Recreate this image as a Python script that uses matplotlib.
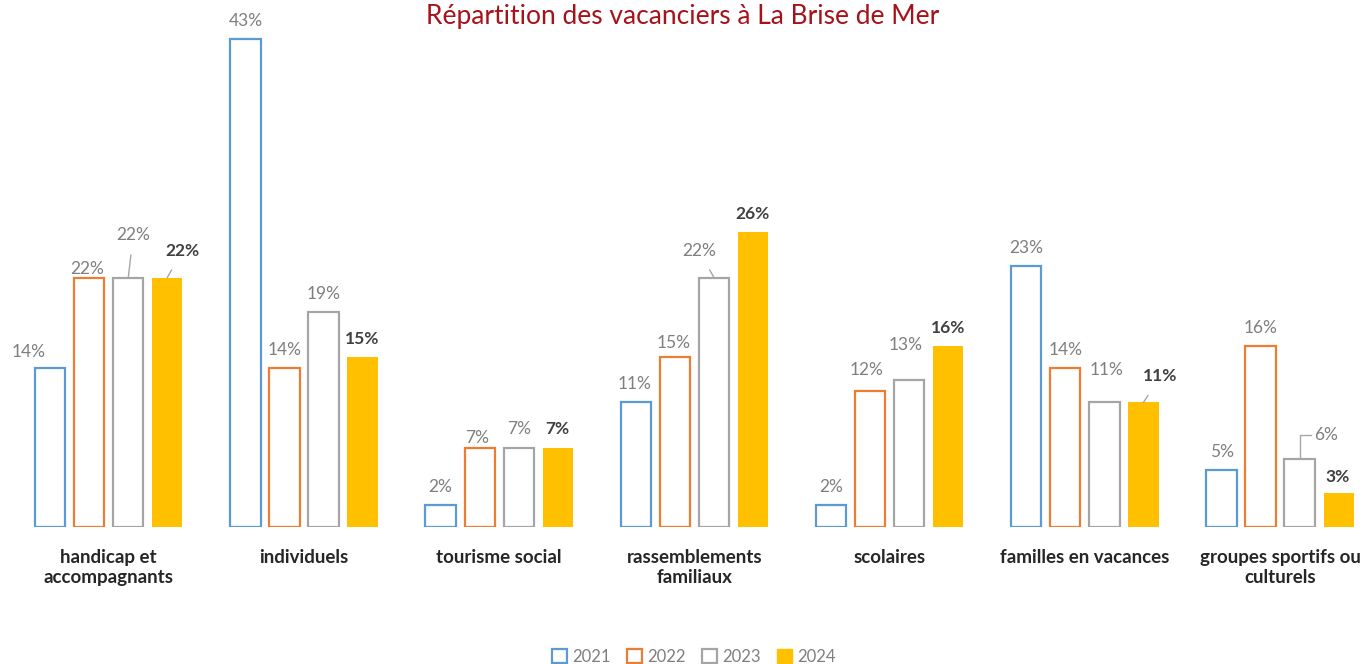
import matplotlib.pyplot as plt
from matplotlib.patches import Patch

plt.rcParams['font.family'] = ['Lato', 'DejaVu Sans']

categories = ["handicap et\naccompagnants", "individuels", "tourisme social",
              "rassemblements\nfamiliaux", "scolaires", "familles en vacances",
              "groupes sportifs ou\nculturels"]
years = ["2021", "2022", "2023", "2024"]
v2021 = [14, 43, 2, 11, 2, 23, 5]
v2022 = [22, 14, 7, 15, 12, 14, 16]
v2023 = [22, 19, 7, 22, 13, 11, 6]
v2024 = [22, 15, 7, 26, 16, 11, 3]
series = [v2021, v2022, v2023, v2024]

colors = ['#5B9BD5', '#ED7D31', '#A5A5A5', '#FFC000']

# label offsets in pixels from bar top (dx, dy, leader style)
offsets = {
    (0, 0): (-22, 16, None), (1, 0): (-2, 9, None), (2, 0): (5, 43, 'line'), (3, 0): (15, 27, 'line'),
    (2, 2): (0, 19, None), (3, 2): (0, 19, None), (1, 2): (-3, 10, None),
    (0, 3): (-1, 18, None), (1, 3): (-1, 14, None), (2, 3): (-15, 27, 'line'),
    (1, 4): (-4, 21, None), (2, 4): (-4, 35, None),
    (2, 5): (2, 32, None), (3, 5): (17, 26, 'line'),
    (2, 6): (26, 24, 'elbow'), (3, 6): (-1, 16, None),
}

fig = plt.figure(figsize=(13.66, 6.64), dpi=100)
ax = fig.add_axes([0, 0.206, 1, 0.769])

step = 0.2
width = 0.155
for i, vals in enumerate(series):
    xs = [c + (i - 1.5) * step for c in range(len(categories))]
    if i == 3:
        ax.bar(xs, vals, width=width, color=colors[i], edgecolor=colors[i], linewidth=0)
    else:
        ax.bar(xs, vals, width=width, facecolor='white', edgecolor=colors[i], linewidth=1.6)
    for j, (x, v) in enumerate(zip(xs, vals)):
        dx, dy, leader = offsets.get((i, j), (0, 18, None))
        bold = i == 3
        kw = dict(textcoords='offset pixels', ha='center', va='center', fontsize=12.5,
                  color='#404040' if bold else '#7F7F7F',
                  fontweight='bold' if bold else 'normal')
        if leader == 'line':
            kw['arrowprops'] = dict(arrowstyle='-', color='#A6A6A6', lw=1, shrinkA=7, shrinkB=0)
        elif leader == 'elbow':
            kw['arrowprops'] = dict(arrowstyle='-', color='#A6A6A6', lw=1, shrinkA=0, shrinkB=0,
                                    connectionstyle='angle,angleA=0,angleB=90,rad=0',
                                    relpos=(0, 0.5))
        ax.annotate(f"{v}%", xy=(x, v), xytext=(dx, dy), **kw)

ax.set_xlim(-0.557, 6.44)
ax.set_ylim(0, 45)
ax.set_xticks(range(len(categories)))
ax.set_xticklabels(categories, fontsize=13.5, fontweight='bold', color='#262626', linespacing=1.2)
ax.tick_params(axis='x', length=0, pad=16)
ax.set_yticks([])
for s in ax.spines.values():
    s.set_visible(False)

fig.text(0.5, 0.975, "Répartition des vacanciers à La Brise de Mer", ha='center', va='center',
         fontsize=19, color='#A5121A')

handles = [Patch(facecolor='white', edgecolor=c, linewidth=1.6) for c in colors[:3]]
handles.append(Patch(facecolor=colors[3], edgecolor=colors[3]))
fig.legend(handles, years, loc='center', bbox_to_anchor=(0.508, 0.011), ncol=4, frameon=False,
           fontsize=12, handlelength=0.9, handleheight=0.9, handletextpad=0.3, columnspacing=1.0,
           labelcolor='#7F7F7F')

fig.savefig('out.png', dpi=100)
